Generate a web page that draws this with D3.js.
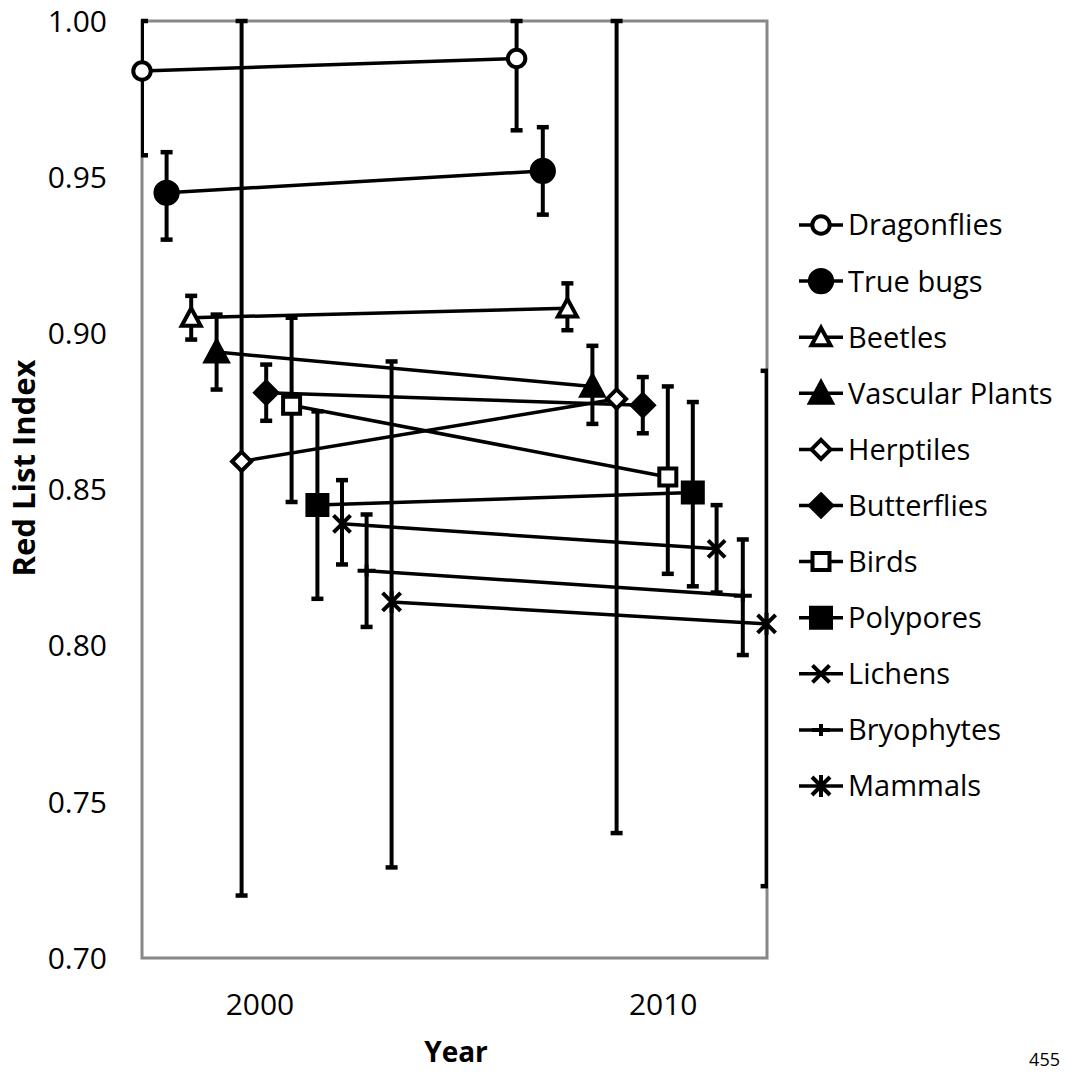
<!DOCTYPE html>
<html>
<head>
<meta charset="utf-8">
<script src="https://cdn.jsdelivr.net/npm/d3@7"></script>
<style>
  body { margin: 0; background: #fff; }
  text { font-family: "Open Sans", sans-serif; fill: #000; }
</style>
</head>
<body>
<div id="chart"></div>
<script>
// Red List Index per group, two assessments each
let species = ["Dragonflies", "True bugs", "Beetles", "Vascular Plants", "Herptiles",
  "Butterflies", "Birds", "Polypores", "Lichens", "Bryophytes", "Mammals"]
let markers = ["circleOpen", "circle", "triangleOpen", "triangle", "diamondOpen",
  "diamond", "squareOpen", "square", "times", "plus", "star"]

let year1 = [1997.0, 1997.61, 1998.22, 1998.85, 1999.47, 2000.08, 2000.71, 2001.35, 2001.96, 2002.57, 2003.19]
let year2 = [2006.29, 2006.94, 2007.55, 2008.17, 2008.77, 2009.42, 2010.04, 2010.66, 2011.25, 2011.90, 2012.49]
let rli1 = [0.984, 0.945, 0.905, 0.894, 0.859, 0.881, 0.877, 0.845, 0.839, 0.824, 0.814]
let rli2 = [0.988, 0.952, 0.908, 0.883, 0.879, 0.877, 0.854, 0.849, 0.831, 0.816, 0.807]
let low1 = [0.957, 0.930, 0.898, 0.882, 0.720, 0.872, 0.846, 0.815, 0.826, 0.806, 0.729]
let high1 = [1.00, 0.958, 0.912, 0.906, 1.00, 0.890, 0.905, 0.875, 0.853, 0.842, 0.891]
let low2 = [0.965, 0.938, 0.901, 0.871, 0.740, 0.868, 0.823, 0.819, 0.817, 0.797, 0.723]
let high2 = [1.00, 0.966, 0.916, 0.896, 1.00, 0.886, 0.883, 0.878, 0.845, 0.834, 0.888]

let yTicks = [0.70, 0.75, 0.80, 0.85, 0.90, 0.95, 1.00]
let xTicks = [2000, 2010]

let width = 1067, height = 1077
let plot = { left: 142, right: 767, top: 21, bottom: 958 }

let svg = d3.select("#chart").append("svg")
  .attr("width", width)
  .attr("height", height)

let x = d3.scaleLinear().domain([1997, 2012.5]).range([plot.left, plot.right])
let y = d3.scaleLinear().domain([0.70, 1.00]).range([plot.bottom, plot.top])

// marker shapes (Excel style)
function markerPath(kind) {
  let p = d3.path()
  if (kind.startsWith("circle")) {
    return d3.symbol(d3.symbolCircle, kind === "circle" ? 390 : 240)()
  }
  if (kind.startsWith("triangle")) {
    let r = kind === "triangle" ? 11 : 9.5
    p.moveTo(0, -r); p.lineTo(r, r * 0.85); p.lineTo(-r, r * 0.85); p.closePath()
  } else if (kind.startsWith("diamond")) {
    let r = kind === "diamond" ? 11 : 9.5
    p.moveTo(0, -r); p.lineTo(r, 0); p.lineTo(0, r); p.lineTo(-r, 0); p.closePath()
  } else if (kind.startsWith("square")) {
    let r = kind === "square" ? 10 : 8.5
    p.rect(-r, -r, 2 * r, 2 * r)
  } else if (kind === "times") {
    let r = 8.5
    p.moveTo(-r, -r); p.lineTo(r, r); p.moveTo(-r, r); p.lineTo(r, -r)
  } else if (kind === "plus") {
    let r = 9
    p.moveTo(-r, 0); p.lineTo(r, 0); p.moveTo(0, -6); p.lineTo(0, 6)
  } else if (kind === "star") {
    let r = 9
    p.moveTo(-r, -r); p.lineTo(r, r); p.moveTo(-r, r); p.lineTo(r, -r)
    p.moveTo(0, -r - 2); p.lineTo(0, r + 2)
  }
  return p.toString()
}

function styleMarker(sel) {
  sel.attr("d", function (d) { return markerPath(d.marker) })
    .attr("fill", function (d) {
      if (d.marker.endsWith("Open")) return "#fff"
      if (["times", "plus", "star"].includes(d.marker)) return "none"
      return "#000"
    })
    .attr("stroke", "#000")
    .attr("stroke-width", 4)
    .attr("stroke-linejoin", "miter")
}

let rows = species.map(function (s, i) {
  return {
    name: s, marker: markers[i],
    pts: [
      { x: year1[i], v: rli1[i], lo: low1[i], hi: high1[i], marker: markers[i] },
      { x: year2[i], v: rli2[i], lo: low2[i], hi: high2[i], marker: markers[i] }
    ]
  }
})

// plot area border
svg.append("rect")
  .attr("x", plot.left)
  .attr("y", plot.top)
  .attr("width", plot.right - plot.left)
  .attr("height", plot.bottom - plot.top)
  .attr("fill", "none")
  .attr("stroke", "#888")
  .attr("stroke-width", 3)

svg.append("clipPath").attr("id", "clip")
  .append("rect")
  .attr("x", plot.left - 1)
  .attr("y", plot.top - 3)
  .attr("width", plot.right - plot.left + 2)
  .attr("height", plot.bottom - plot.top + 4)

let g = svg.append("g").attr("clip-path", "url(#clip)")

// error bars (clipped to the plot area)
let allPts = rows.flatMap(function (r) { return r.pts })
let bars = g.selectAll(".err").data(allPts).enter().append("g").attr("class", "err")
bars.append("line")
  .attr("x1", function (d) { return x(d.x) })
  .attr("x2", function (d) { return x(d.x) })
  .attr("y1", function (d) { return y(d.hi) })
  .attr("y2", function (d) { return y(d.lo) })
  .attr("stroke", "#000")
  .attr("stroke-width", 4)
bars.selectAll(".cap").data(function (d) { return [d.hi, d.lo].map(function (v) { return { x: d.x, v: v } }) })
  .enter().append("line")
  .attr("class", "cap")
  .attr("x1", function (d) { return x(d.x) - 6 })
  .attr("x2", function (d) { return x(d.x) + 6 })
  .attr("y1", function (d) { return y(d.v) })
  .attr("y2", function (d) { return y(d.v) })
  .attr("stroke", "#000")
  .attr("stroke-width", 4.5)

// series lines
let line = d3.line().x(function (d) { return x(d.x) }).y(function (d) { return y(d.v) })
svg.selectAll(".series").data(rows).enter().append("path")
  .attr("class", "series")
  .attr("d", function (d) { return line(d.pts) })
  .attr("fill", "none")
  .attr("stroke", "#000")
  .attr("stroke-width", 3.5)

// markers, not clipped
svg.selectAll(".marker").data(allPts).enter().append("path")
  .attr("class", "marker")
  .attr("transform", function (d) { return "translate(" + x(d.x) + "," + y(d.v) + ")" })
  .call(styleMarker)

// y axis labels
svg.selectAll(".ytick").data(yTicks).enter().append("text")
  .attr("class", "ytick")
  .attr("x", 107)
  .attr("y", function (d) { return y(d) })
  .attr("dy", "0.36em")
  .attr("text-anchor", "end")
  .attr("font-size", "30px")
  .text(function (d) { return d3.format(".2f")(d) })

// x axis labels
svg.selectAll(".xtick").data(xTicks).enter().append("text")
  .attr("class", "xtick")
  .attr("x", function (d) { return x(d) - 3 })
  .attr("y", 1015)
  .attr("text-anchor", "middle")
  .attr("font-size", "30px")
  .text(function (d) { return d })

svg.append("text")
  .attr("x", 456)
  .attr("y", 1062)
  .attr("text-anchor", "middle")
  .attr("font-size", "28px")
  .attr("font-weight", "bold")
  .text("Year")

svg.append("text")
  .attr("transform", "translate(35,468) rotate(-90)")
  .attr("text-anchor", "middle")
  .attr("font-size", "31px")
  .attr("font-weight", "bold")
  .text("Red List Index")

// legend
let ly = d3.scalePoint().domain(species).range([225, 786])
let leg = svg.selectAll(".legend").data(rows).enter().append("g")
  .attr("class", "legend")
  .attr("transform", function (d) { return "translate(821," + ly(d.name) + ")" })
leg.append("line")
  .attr("x1", -22).attr("x2", 22)
  .attr("stroke", "#000").attr("stroke-width", 3.5)
leg.append("path").call(styleMarker)
leg.append("text")
  .attr("x", 27)
  .attr("dy", "0.36em")
  .attr("font-size", "29px")
  .text(function (d) { return d.name })

// page number near the bottom edge
svg.append("text")
  .attr("x", 1060)
  .attr("y", 1066)
  .attr("text-anchor", "end")
  .attr("font-size", "18px")
  .text("455")
</script>
</body>
</html>
